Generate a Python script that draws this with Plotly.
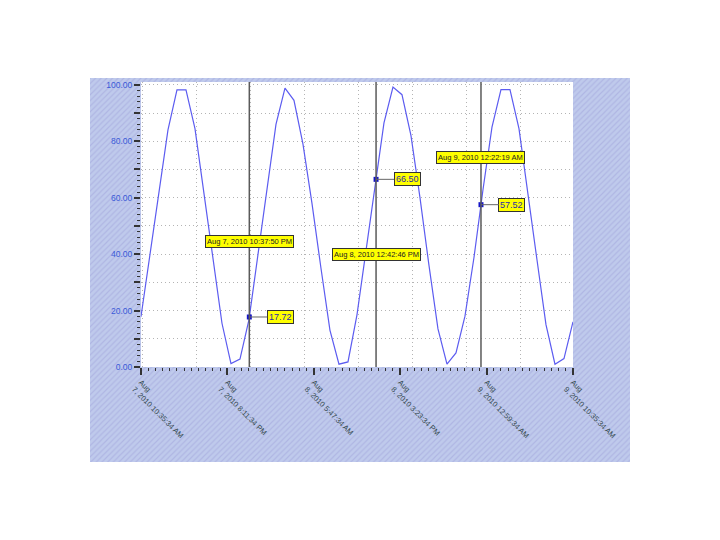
import plotly.graph_objects as go
import pandas as pd

# ---- data ----
start_time = "2010-08-07 10:35:34"
end_time = "2010-08-09 10:35:34"

values = [
    17.8, 39.5, 62.0, 84.0, 98.2, 98.2, 84.5, 62.0, 38.0, 15.5, 1.2, 2.8,
    16.8, 40.0, 63.5, 86.0, 98.8, 94.5, 79.0, 58.0, 35.0, 13.0, 1.0, 1.8,
    18.5, 41.0, 63.8, 86.5, 99.2, 96.5, 82.0, 60.0, 36.0, 13.5, 1.0, 5.0,
    18.0, 38.8, 62.8, 85.0, 98.3, 98.3, 84.5, 62.0, 38.0, 15.0, 1.0, 3.0,
    16.0,
]
sample_times = pd.date_range(start_time, periods=len(values), freq="h")

x_tick_times = pd.date_range(start_time, periods=6, freq="576min")
x_tick_labels = [
    "Aug<br>7, 2010 10:35:34 AM",
    "Aug<br>7, 2010 8:11:34 PM",
    "Aug<br>8, 2010 5:47:34 AM",
    "Aug<br>8, 2010 3:23:34 PM",
    "Aug<br>9, 2010 12:59:34 AM",
    "Aug<br>9, 2010 10:35:34 AM",
]

y_tick_values = [0, 10, 20, 30, 40, 50, 60, 70, 80, 90, 100]
y_tick_labels = ["0.00", "", "20.00", "", "40.00", "", "60.00", "", "80.00", "", "100.00"]

cursor_times = ["2010-08-07 22:37:50", "2010-08-08 12:42:46", "2010-08-09 00:22:19"]
cursor_values = [17.72, 66.50, 57.52]
cursor_value_labels = ["17.72", "66.50", "57.52"]
cursor_date_labels = [
    "Aug 7, 2010 10:37:50 PM",
    "Aug 8, 2010 12:42:46 PM",
    "Aug 9, 2010 12:22:19 AM",
]
cursor_date_label_y = [44.3, 40.0, 74.4]

Y_MAX = 101
FONT = "Liberation Sans, Arial, sans-serif"

fig = go.Figure()

# hatched background panel
fig.add_trace(go.Bar(
    x=[0.5], y=[1], width=[1], xaxis="x", yaxis="y",
    marker=dict(
        color="#bcc6ea", line_width=0,
        pattern=dict(shape="/", size=4, solidity=0.3,
                     fgcolor="#9fa2da", bgcolor="#bfcaec"),
    ),
    hoverinfo="skip", showlegend=False,
))

# main series
fig.add_trace(go.Scatter(
    x=sample_times, y=values, xaxis="x2", yaxis="y2",
    mode="lines", line=dict(color="#5c5cf0", width=1.2),
    showlegend=False,
))

# dummy trace for the vertical grid overlay axis
fig.add_trace(go.Scatter(
    x=[sample_times[0]], y=[None], xaxis="x3", yaxis="y2",
    mode="lines", showlegend=False, hoverinfo="skip",
))

# cursor points
fig.add_trace(go.Scatter(
    x=cursor_times, y=cursor_values, xaxis="x2", yaxis="y2",
    mode="markers", marker=dict(symbol="square", size=5, color="#1414c8"),
    showlegend=False,
))

shapes = [
    dict(type="rect", xref="x2", yref="y2", x0=start_time, x1=end_time,
         y0=0, y1=Y_MAX, fillcolor="white", line=dict(width=0), layer="below"),
]
for ct in cursor_times:
    shapes.append(dict(type="line", xref="x2", yref="y2", x0=ct, x1=ct,
                       y0=0, y1=Y_MAX, line=dict(color="#5a5a5a", width=1.5),
                       layer="above"))

annotations = []
for ct, cv, lbl in zip(cursor_times, cursor_values, cursor_value_labels):
    annotations.append(dict(
        x=ct, y=cv, xref="x2", yref="y2", text=lbl,
        showarrow=True, arrowhead=0, arrowwidth=1, arrowcolor="#666666",
        ax=31, ay=0, standoff=0,
        bgcolor="#ffff00", bordercolor="#333333", borderwidth=1, borderpad=1,
        font=dict(family=FONT, size=9, color="#2b2ba8"),
    ))
for ct, ly, lbl in zip(cursor_times, cursor_date_label_y, cursor_date_labels):
    annotations.append(dict(
        x=ct, y=ly, xref="x2", yref="y2", text=lbl, showarrow=False,
        bgcolor="#ffff00", bordercolor="#333333", borderwidth=1, borderpad=1,
        font=dict(family=FONT, size=7.5, color="#222222"),
    ))

GRID = "#b4b4b4"

fig.update_layout(
    width=720, height=540,
    margin=dict(l=82, r=98, t=70, b=86),
    paper_bgcolor="white", plot_bgcolor="white",
    showlegend=False,
    font=dict(family=FONT),
    shapes=shapes, annotations=annotations,
    xaxis=dict(domain=[0, 1], range=[0, 1], visible=False, fixedrange=True),
    yaxis=dict(domain=[0, 1], range=[0, 1], visible=False, fixedrange=True),
    xaxis2=dict(
        domain=[0.0944, 0.8944], anchor="y2", type="date",
        range=[start_time, end_time],
        tickmode="array", tickvals=x_tick_times, ticktext=x_tick_labels,
        tickangle=45, ticks="outside", ticklen=7, tickwidth=1.5, tickcolor="#333333",
        tickfont=dict(family=FONT, size=7.5, color="#34494f"),
        showgrid=False, zeroline=False, showline=False,
        minor=dict(ticks="outside", ticklen=3, tickwidth=1.2, tickcolor="#333333",
                   tick0=start_time, dtick=2880000, showgrid=False),
    ),
    xaxis3=dict(
        overlaying="x2", anchor="y2", type="date",
        range=[start_time, end_time],
        tickmode="linear", tick0="2010-08-07 16:47:34", dtick=21600000,
        showticklabels=False, ticks="", showgrid=True,
        gridcolor=GRID, griddash="1px,3px", gridwidth=1, zeroline=False,
    ),
    yaxis2=dict(
        domain=[0.2474, 0.9896], anchor="x2", range=[0, Y_MAX],
        tickmode="array", tickvals=y_tick_values, ticktext=y_tick_labels,
        ticks="outside", ticklen=6, tickwidth=1.5, tickcolor="#333333",
        tickfont=dict(family=FONT, size=8.5, color="#3a5ad8"),
        showgrid=True, gridcolor=GRID, griddash="1px,3px", gridwidth=1,
        zeroline=False, showline=False,
        minor=dict(ticks="outside", ticklen=3, tickwidth=1.2, tickcolor="#333333",
                   dtick=2, showgrid=False),
    ),
)

fig.write_html("out.html")
